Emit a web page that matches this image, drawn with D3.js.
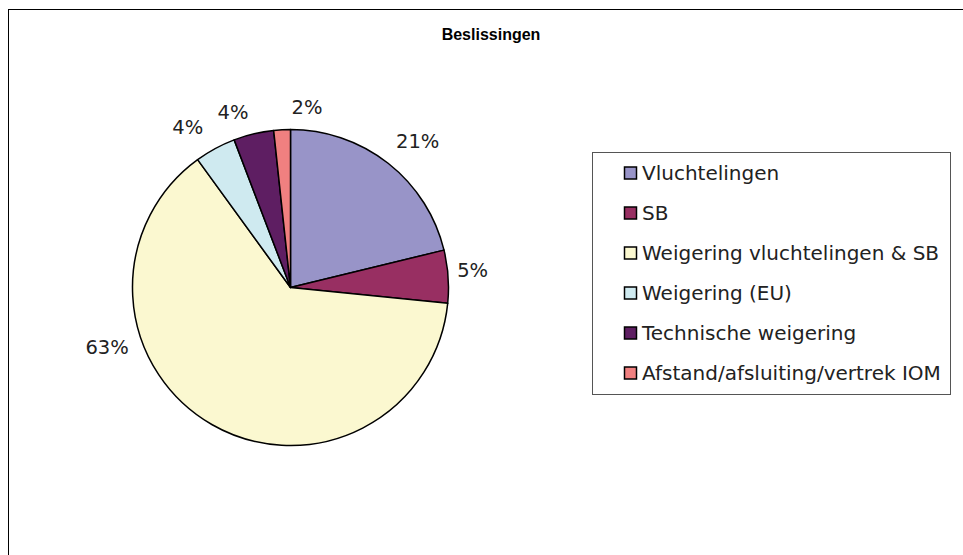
<!DOCTYPE html>
<html lang="nl">
<head>
<meta charset="UTF-8">
<title>Beslissingen</title>
<script src="https://d3js.org/d3.v7.min.js"></script>
<style>
    body { margin: 0; padding: 0; background: #fff; }
    svg { display: block; }
    .lbl { font-family: 'DejaVu Sans', Verdana, sans-serif; fill: #222; }
</style>
</head>
<body>
<div id="chart"></div>
<script>
    // data
    const categories = ['Vluchtelingen', 'SB', 'Weigering vluchtelingen & SB', 'Weigering (EU)', 'Technische weigering', 'Afstand/afsluiting/vertrek IOM'];
    const values = [21.2, 5.4, 63.4, 4.2, 4.1, 1.7];
    const colors = ['#9894c8', '#982f62', '#fbf8d0', '#cfeaf0', '#5e1e62', '#f08080'];

    const width = 963, height = 555;
    const cx = 290.5, cy = 287.5, radius = 158;

    const svg = d3.select('#chart').append('svg')
        .attr('width', width)
        .attr('height', height);

    // outer frame (runs off the right and bottom)
    svg.append('rect')
        .attr('x', 8.5).attr('y', 9.5)
        .attr('width', 1000).attr('height', 600)
        .attr('fill', '#fff')
        .attr('stroke', '#000');

    svg.append('text')
        .attr('x', 491).attr('y', 40)
        .attr('text-anchor', 'middle')
        .style('font-family', "'Liberation Sans', Arial, sans-serif")
        .style('font-weight', 'bold')
        .style('font-size', '16px')
        .text('Beslissingen');

    const pie = d3.pie().sort(null).value(d => d);
    const arcs = pie(values);
    const arc = d3.arc().innerRadius(0).outerRadius(radius);

    const g = svg.append('g').attr('transform', `translate(${cx},${cy})`);

    g.selectAll('path')
        .data(arcs)
        .join('path')
        .attr('d', arc)
        .attr('fill', (d, i) => colors[i])
        .attr('stroke', '#000')
        .attr('stroke-width', 1.5)
        .attr('stroke-linejoin', 'round');

    // Excel's "best fit" label placement: shift from mid angle (deg) and distance from centre
    const labelShift = [2.8, -1.5, 42, -4.3, -4.7, 8.3];
    const labelR = [194, 183, 193, 190, 184, 181];
    const labelAngle = (d, i) => (d.startAngle + d.endAngle) / 2 + labelShift[i] * Math.PI / 180;

    g.selectAll('text.lbl')
        .data(arcs)
        .join('text')
        .attr('class', 'lbl')
        .style('font-size', '19.5px')
        .attr('text-anchor', 'middle')
        .attr('dominant-baseline', 'central')
        .attr('x', (d, i) => Math.sin(labelAngle(d, i)) * labelR[i])
        .attr('y', (d, i) => -Math.cos(labelAngle(d, i)) * labelR[i])
        .text(d => Math.round(d.value) + '%');

    // legend
    const legX = 592, legY = 152, legW = 358, legH = 242, rowH = 40;
    const leg = svg.append('g').attr('transform', `translate(${legX},${legY})`);
    leg.append('rect')
        .attr('x', 0.5).attr('y', 0.5)
        .attr('width', legW).attr('height', legH)
        .attr('fill', '#fff')
        .attr('stroke', '#555');

    const item = leg.selectAll('g.item')
        .data(categories)
        .join('g')
        .attr('class', 'item')
        .attr('transform', (d, i) => `translate(32,${21 + i * rowH})`);

    item.append('rect')
        .attr('x', 0.5).attr('y', -6)
        .attr('width', 12).attr('height', 12)
        .attr('fill', (d, i) => colors[i])
        .attr('stroke', '#000')
        .attr('stroke-width', 1.5);

    item.append('text')
        .attr('class', 'lbl')
        .style('font-size', '20px')
        .attr('x', 18)
        .attr('dominant-baseline', 'central')
        .text(d => d);
</script>
</body>
</html>
